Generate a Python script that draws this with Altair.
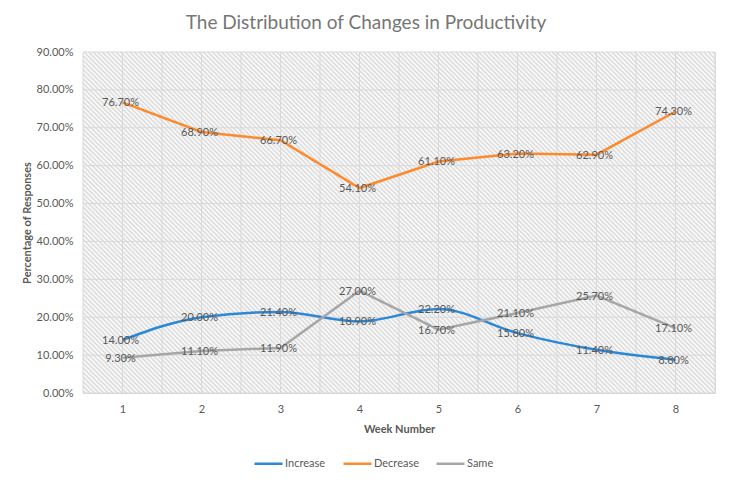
import altair as alt
import pandas as pd

weeks = [1, 2, 3, 4, 5, 6, 7, 8]
increase = [0.140, 0.200, 0.214, 0.189, 0.222, 0.158, 0.114, 0.088]
decrease = [0.767, 0.689, 0.667, 0.541, 0.611, 0.632, 0.629, 0.743]
same = [0.093, 0.111, 0.119, 0.270, 0.167, 0.211, 0.257, 0.171]
series_names = ["Increase", "Decrease", "Same"]
series_colors = ["#2b88d8", "#fd8a2c", "#a6a6a6"]
y_ticks = [0.0, 0.1, 0.2, 0.3, 0.4, 0.5, 0.6, 0.7, 0.8, 0.9]
x_grid = [0.5, 1.0, 1.5, 2.0, 2.5, 3.0, 3.5, 4.0, 4.5, 5.0, 5.5, 6.0, 6.5, 7.0, 7.5, 8.0, 8.5]

W, H = 632, 341
FONT = "Lato"
TXT = "#595959"
FS = 11

rows = []
for name, vals in zip(series_names, [increase, decrease, same]):
    for w, v in zip(weeks, vals):
        rows.append({"week": w, "value": v, "series": name})
df = pd.DataFrame(rows)

xscale = alt.Scale(domain=[0.5, 8.5], nice=False, zero=False)
yscale = alt.Scale(domain=[0, 0.9], nice=False)
cscale = alt.Scale(domain=series_names, range=series_colors)

xaxis = alt.Axis(title="Week Number", values=weeks, format="d", grid=False, ticks=False,
                 domain=True, domainColor="#d9d9d9", labelFont=FONT, labelFontSize=FS,
                 labelColor=TXT, labelPadding=10, labelOverlap=False, titleFont=FONT,
                 titleFontSize=FS, titleFontWeight="bold", titleColor=TXT, titlePadding=9)
yaxis = alt.Axis(title="Percentage of Responses", values=y_ticks, format=".2%", grid=False,
                 ticks=False, domain=False, labelFont=FONT, labelFontSize=FS,
                 labelColor=TXT, labelPadding=10, labelOverlap=False, labelBound=False,
                 titleFont=FONT, titleFontSize=FS, titleFontWeight="bold",
                 titleColor=TXT, titlePadding=4)

enc_x = alt.X("week:Q", scale=xscale, axis=xaxis, title="Week Number")
enc_y = alt.Y("value:Q", scale=yscale, axis=yaxis, title="Percentage of Responses")

# hatched background via a repeating (triangular) linear gradient
n_periods = 212
stops = []
for k in range(n_periods):
    stops.append(alt.GradientStop(offset=k / n_periods, color="#ffffff"))
    stops.append(alt.GradientStop(offset=(k + 0.5) / n_periods, color="#d8d8d8"))
stops.append(alt.GradientStop(offset=1.0, color="#ffffff"))
r = H / W
kk = (1 + r) / (1 + r * r)
hatch = alt.LinearGradient(gradient="linear", stops=stops,
                           x1=0, y1=1, x2=kk, y2=1 - kk * r)

bg = alt.Chart(pd.DataFrame({"k": [0]})).mark_rect(fill=hatch, strokeWidth=0).encode(
    x=alt.value(0), x2=alt.value(W), y=alt.value(0), y2=alt.value(H)
)

hgrid = alt.Chart(pd.DataFrame({"value": y_ticks})).mark_rule(
    color="#d9d9d9", strokeWidth=1
).encode(y=enc_y)

vgrid = alt.Chart(pd.DataFrame({"week": x_grid})).mark_rule(
    color="#d9d9d9", strokeWidth=1
).encode(x=enc_x)

legend = alt.Legend(title=None, orient="none", legendX=170, legendY=396,
                    direction="horizontal", symbolType="stroke", symbolSize=784,
                    symbolStrokeWidth=2.5, labelFont=FONT, labelFontSize=FS,
                    labelColor=TXT, labelOffset=1, columnPadding=12)

base = alt.Chart(df)
enc_c = alt.Color("series:N", scale=cscale, legend=legend, sort=series_names)

smooth = base.transform_filter(alt.datum.series == "Increase").mark_line(
    strokeWidth=2.5, interpolate="monotone"
).encode(x=enc_x, y=enc_y, color=enc_c)

straight = base.transform_filter(alt.datum.series != "Increase").mark_line(
    strokeWidth=2.5
).encode(x=enc_x, y=enc_y, color=enc_c, detail="series:N")

labels = base.mark_text(font=FONT, fontSize=FS, color=TXT, dx=-2, dy=1).encode(
    x=enc_x, y=enc_y, text=alt.Text("value:Q", format=".2%")
)

chart = alt.layer(bg, hgrid, vgrid, smooth, straight, labels).properties(
    width=W, height=H,
    title=alt.TitleParams("The Distribution of Changes in Productivity", font=FONT,
                          fontSize=19, fontWeight="normal", color="#767676",
                          anchor="middle", dx=-33, offset=13),
    autosize=alt.AutoSizeParams(type="none"),
    padding={"left": 75, "top": 44, "right": 10, "bottom": 85},
).configure_view(strokeWidth=0).configure(background="#ffffff")

chart.save("out.html", embed_options={"renderer": "svg", "actions": False})
